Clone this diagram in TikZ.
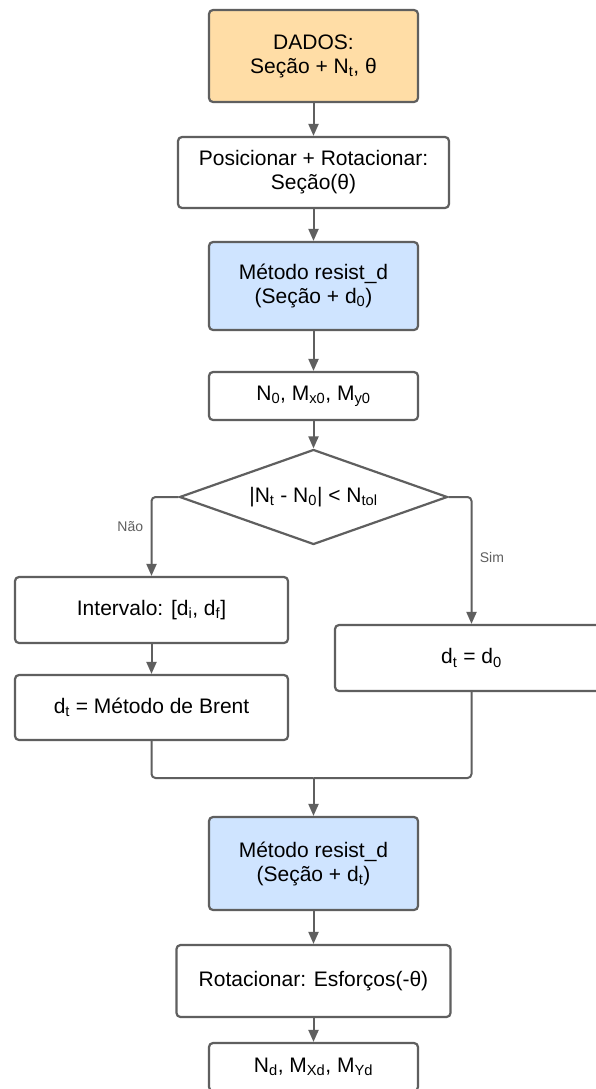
\documentclass[tikz,border=0pt]{standalone}
\usepackage{fontspec}
\setmainfont{Liberation Sans}
\usetikzlibrary{shapes.geometric, arrows.meta}
\definecolor{linha}{HTML}{5F5F5F}
\definecolor{laranja}{HTML}{FFDDA6}
\definecolor{azul}{HTML}{CFE4FF}

\begin{document}
\begin{tikzpicture}[
        x=1pt, y=1pt,
        caixa/.style={
          draw=linha, line width=2.2pt, rounded corners=4pt, align=center,
          minimum width=209pt, minimum height=48pt, inner sep=0pt,
          font=\fontsize{21}{24}\selectfont
        },
        entrada/.style={caixa, fill=laranja},
        metodo/.style={caixa, fill=azul},
        decisao/.style={
          diamond, draw=linha, line width=2.2pt, aspect=2.82, inner sep=0pt,
          minimum width=268pt, minimum height=95pt,
          font=\fontsize{21}{24}\selectfont
        },
        rotulo/.style={font=\fontsize{14}{16}\selectfont, text=linha},
        seta/.style={->, draw=linha, line width=2pt},
        >={Triangle[width=10pt,length=12pt]},
      ]
        \useasboundingbox (0,0) rectangle (595,-1089);
        \fill [white] (0,0) rectangle (595,-1089);

        % Main column
        \node [entrada, minimum height=92pt] (dados) at (313.5,-56) {DADOS:\\Seção + N\textsubscript{t}, θ};
        \node [caixa, minimum width=271pt, minimum height=71pt] (posic) at (313.5,-172.5) {Posicionar + Rotacionar:\\Seção(θ)};
        \node [metodo, minimum height=88pt] (resist1) at (313.5,-286) {Método resist\_d\\(Seção + d\textsubscript{0})};
        \node [caixa] (esf0) at (313.5,-396) {N\textsubscript{0}, M\textsubscript{x0}, M\textsubscript{y0}};

        % Test
        \node [decisao] (teste) at (313.5,-497) {|N\textsubscript{t} - N\textsubscript{0}| < N\textsubscript{tol}};

        % Branches
        \node [caixa, minimum width=273pt, minimum height=66pt] (interv) at (151.5,-610) {Intervalo: [d\textsubscript{i}, d\textsubscript{f}]};
        \node [caixa, minimum width=273pt, minimum height=65pt] (brent) at (151.5,-707.5) {d\textsubscript{t} = Método de Brent};
        \node [caixa, minimum width=273pt, minimum height=66pt] (igual) at (471.5,-658) {d\textsubscript{t} = d\textsubscript{0}};
        \coordinate (junta) at (313.5,-778);

        % Final steps
        \node [metodo, minimum height=93pt] (resist2) at (313.5,-863.5) {Método resist\_d\\(Seção + d\textsubscript{t})};
        \node [caixa, minimum width=274pt, minimum height=72pt] (rotac) at (313.5,-981) {Rotacionar: Esforços(-θ)};
        \node [caixa] (esfd) at (313.5,-1067) {N\textsubscript{d}, M\textsubscript{Xd}, M\textsubscript{Yd}};

        % Arrows
        \draw [seta] (dados) -- (posic);
        \draw [seta] (posic) -- (resist1);
        \draw [seta] (resist1) -- (esf0);
        \draw [seta] (esf0) -- (teste);
        \draw [seta, rounded corners=4pt] (teste.west) -| node[rotulo, pos=.69, left=4pt] {Não} (interv.north);
        \draw [seta, rounded corners=4pt] (teste.east) -| node[rotulo, pos=.74, right=4pt] {Sim} (igual.north);
        \draw [seta] (interv) -- (brent);
        \draw [linha, line width=2pt, rounded corners=4pt] (brent.south) |- (junta);
        \draw [linha, line width=2pt, rounded corners=4pt] (igual.south) |- (junta);
        \draw [seta] (junta) -- (resist2);
        \draw [seta] (resist2) -- (rotac);
        \draw [seta] (rotac) -- (esfd);

      \end{tikzpicture}
\end{document}
